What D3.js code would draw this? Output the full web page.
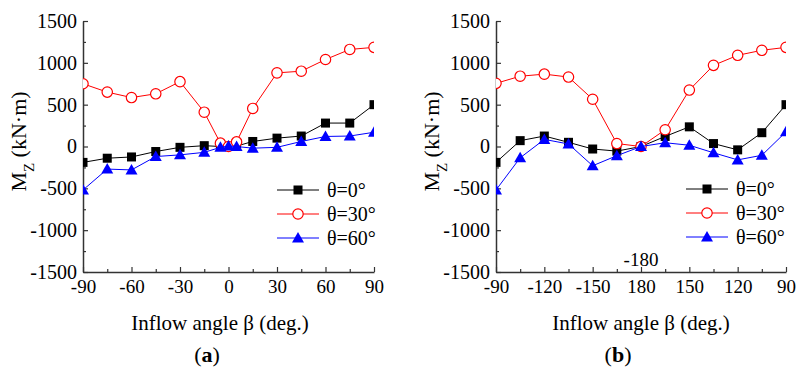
<!DOCTYPE html>
<html>
<head>
<meta charset="utf-8">
<script src="https://cdn.jsdelivr.net/npm/d3@7"></script>
<style>
  body { margin: 0; background: #fff; }
  svg text { font-family: "Liberation Serif", "Times New Roman", serif !important; fill: #000; }
</style>
</head>
<body>
<script>
// panel (a): inflow angle -90..90
const anglesA = [-90, -75, -60, -45, -30, -15, -5, 0, 5, 15, 30, 45, 60, 75, 90];
const mzA_0  = [-190, -140, -125, -60, -10, 10, 0, 0, 5, 60, 100, 125, 280, 280, 500];
const mzA_30 = [750, 650, 585, 630, 775, 410, 40, 0, 55, 455, 880, 900, 1040, 1160, 1185];
const mzA_60 = [-520, -270, -280, -120, -100, -70, -10, 5, 0, -20, -10, 60, 120, 125, 170];

// panel (b): inflow angle -90 .. -180/180 .. 90
const anglesB = ["-90", "-105", "-120", "-135", "-150", "-165", "180", "165", "150", "135", "120", "105", "90"];
const tickLabelsB = ["-90", "-120", "-150", "180", "150", "120", "90"];
const mzB_0  = [-190, 70, 125, 50, -30, -55, 0, 120, 235, 35, -40, 165, 500];
const mzB_30 = [755, 840, 865, 830, 565, 35, 0, 200, 675, 970, 1090, 1150, 1185];
const mzB_60 = [-520, -135, 85, 30, -230, -110, 0, 45, 15, -75, -160, -105, 175];

const seriesNames = ["θ=0°", "θ=30°", "θ=60°"];
const yTicks = [-1500, -1000, -500, 0, 500, 1000, 1500];
const yMinor = [-1250, -750, -250, 250, 750, 1250];

const W = 798, H = 371;
const svg = d3.select("body").append("svg").attr("width", W).attr("height", H);

const styles = [
  { color: "#000", marker: "square" },
  { color: "#ff0000", marker: "circle" },
  { color: "#0000ff", marker: "triangle" }
];

function drawMarker(sel, type, color) {
  if (type === "square") {
    sel.append("rect").attr("x", -4.5).attr("y", -4.5).attr("width", 9).attr("height", 9).attr("fill", color);
  } else if (type === "circle") {
    sel.append("circle").attr("r", 5.2).attr("fill", "#fff").attr("stroke", color).attr("stroke-width", 1.2);
  } else {
    sel.append("path").attr("d", "M0,-6L6,4.5L-6,4.5Z").attr("fill", color);
  }
}

function drawPanel(cfg) {
  const g = svg.append("g");
  const y = d3.scaleLinear().domain([-1500, 1500]).range([cfg.bottom, cfg.top]);
  const x = cfg.x;

  // clip markers to plot width
  const clipId = "clip" + cfg.id;
  svg.append("clipPath").attr("id", clipId).append("rect")
    .attr("x", cfg.left).attr("y", 0).attr("width", cfg.right - cfg.left).attr("height", H);

  // y axis
  const yAxis = g.append("g").attr("transform", `translate(${cfg.left},0)`)
    .call(d3.axisLeft(y).tickValues(yTicks).tickFormat(d => String(d)).tickSize(-5).tickSizeOuter(0).tickPadding(6));
  g.append("g").attr("transform", `translate(${cfg.left},0)`)
    .call(d3.axisLeft(y).tickValues(yMinor).tickSize(-3).tickSizeOuter(0).tickFormat(""))
    .select(".domain").remove();

  // x axis
  const xAxis = g.append("g").attr("transform", `translate(0,${cfg.bottom})`)
    .call(cfg.xAxisMajor);
  g.append("g").attr("transform", `translate(0,${cfg.bottom})`)
    .call(cfg.xAxisMinor).select(".domain").remove();

  g.selectAll("g").attr("font-family", null).attr("font-size", null);
  g.selectAll(".domain").attr("stroke", "#333").attr("stroke-width", 1.5);
  g.selectAll(".tick line").attr("stroke", "#333").attr("stroke-width", 1.2);
  yAxis.selectAll(".tick text").style("font-size", "20px");
  xAxis.selectAll(".tick text").style("font-size", "19px").attr("dy", "0.9em");

  // series
  const plot = g.append("g").attr("clip-path", `url(#${clipId})`);
  cfg.series.forEach((vals, i) => {
    const pts = cfg.xs.map((a, j) => [x(a), y(vals[j])]);
    plot.append("path").attr("d", d3.line()(pts))
      .attr("fill", "none").attr("stroke", styles[i].color).attr("stroke-width", 1);
    pts.forEach(p => {
      const m = plot.append("g").attr("transform", `translate(${p[0]},${p[1]})`);
      drawMarker(m, styles[i].marker, styles[i].color);
    });
  });

  // legend
  seriesNames.forEach((name, i) => {
    const ly = cfg.legendY + i * 24;
    g.append("line").attr("x1", cfg.legendX).attr("x2", cfg.legendX + 42)
      .attr("y1", ly).attr("y2", ly).attr("stroke", styles[i].color).attr("stroke-width", 1);
    const m = g.append("g").attr("transform", `translate(${cfg.legendX + 21},${ly})`);
    drawMarker(m, styles[i].marker, styles[i].color);
    g.append("text").attr("x", cfg.legendX + 50).attr("y", ly).attr("dy", "0.35em")
      .style("font-size", "20px").text(name);
  });

  // y label
  const yl = g.append("text")
    .attr("transform", `translate(${cfg.left - 57},${(cfg.top + cfg.bottom) / 2 - 5}) rotate(-90)`)
    .attr("text-anchor", "middle").style("font-size", "22px");
  yl.append("tspan").text("M");
  yl.append("tspan").attr("baseline-shift", "sub").style("font-size", "15px").text("Z");
  yl.append("tspan").text(" (kN·m)");

  // x label
  g.append("text").attr("x", cfg.titleX).attr("y", 330).attr("text-anchor", "middle")
    .style("font-size", "21px").text("Inflow angle β (deg.)");

  // panel tag
  const tag = g.append("text").attr("x", cfg.tagX).attr("y", 362).attr("text-anchor", "middle")
    .style("font-size", "22px");
  tag.append("tspan").text("(");
  tag.append("tspan").style("font-weight", "bold").text(cfg.tag);
  tag.append("tspan").text(")");
  return { g, x, y };
}

// panel (a)
const xa = d3.scaleLinear().domain([-90, 90]).range([83, 374]);
drawPanel({
  id: "a", left: 83, right: 374, top: 21, bottom: 272,
  x: xa, xs: anglesA, series: [mzA_0, mzA_30, mzA_60],
  xAxisMajor: d3.axisBottom(xa).tickValues(d3.range(-90, 91, 30)).tickFormat(d => String(d)).tickSize(-5).tickSizeOuter(0).tickPadding(4),
  xAxisMinor: d3.axisBottom(xa).tickValues(d3.range(-75, 90, 30)).tickSize(-3).tickSizeOuter(0).tickFormat(""),
  legendX: 277, legendY: 190, titleX: 220, tag: "a", tagX: 207
});

// panel (b)
const xb = d3.scalePoint().domain(anglesB).range([496, 786]);
const pb = drawPanel({
  id: "b", left: 496, right: 786, top: 21, bottom: 272,
  x: xb, xs: anglesB, series: [mzB_0, mzB_30, mzB_60],
  xAxisMajor: d3.axisBottom(xb).tickValues(tickLabelsB).tickSize(-5).tickSizeOuter(0).tickPadding(4),
  xAxisMinor: d3.axisBottom(xb).tickValues(anglesB.filter(a => !tickLabelsB.includes(a))).tickSize(-3).tickSizeOuter(0).tickFormat(""),
  legendX: 686, legendY: 189, titleX: 641, tag: "b", tagX: 618
});
pb.g.append("text").attr("x", xb("180")).attr("y", 259).attr("dy", "0.35em")
  .attr("text-anchor", "middle").style("font-size", "19px").text("-180");
</script>
</body>
</html>
